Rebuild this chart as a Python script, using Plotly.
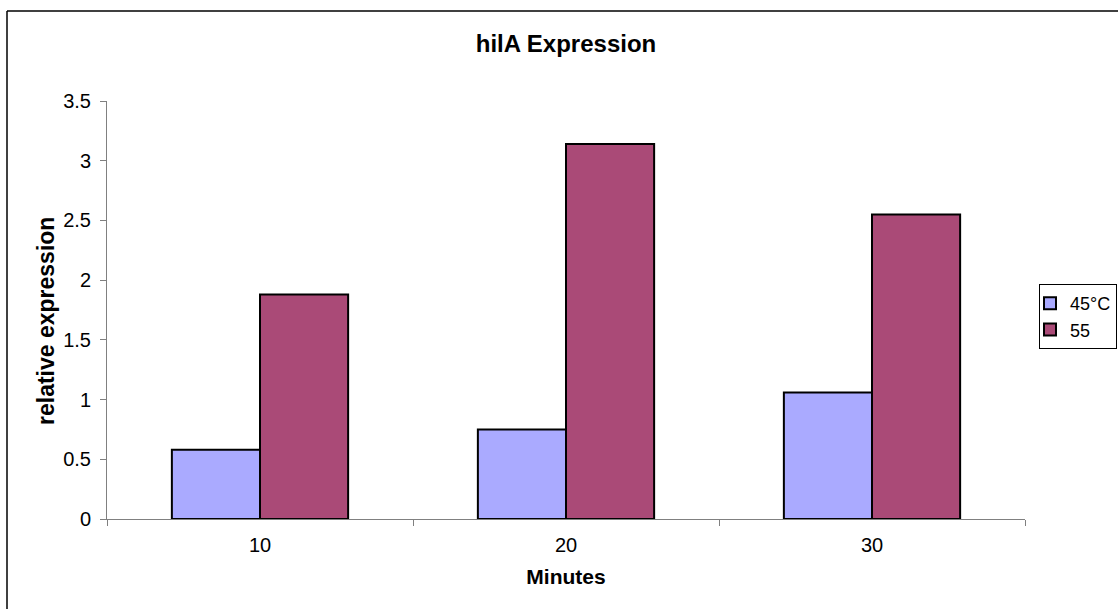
import plotly.graph_objects as go

categories = ["10", "20", "30"]
series_45 = [0.58, 0.75, 1.06]
series_55 = [1.88, 3.14, 2.55]
series_names = ["45°C", "55"]
y_ticks = [0, 0.5, 1, 1.5, 2, 2.5, 3, 3.5]
y_tick_labels = ["0", "0.5", "1", "1.5", "2", "2.5", "3", "3.5"]

W, H = 1118, 609
L, R, T, B = 107, 1025, 101, 519
pw, ph = R - L, B - T

def px(x):
    return (x - L) / pw

def py(y):
    return (B - y) / ph

FONT = "Liberation Sans, Arial, sans-serif"

fig = go.Figure()
fig.add_trace(go.Bar(x=categories, y=series_45, name=series_names[0],
                     marker=dict(color="#AAAAFF", line=dict(color="#000000", width=2))))
fig.add_trace(go.Bar(x=categories, y=series_55, name=series_names[1],
                     marker=dict(color="#AA4A77", line=dict(color="#000000", width=2))))

fig.update_layout(
    width=W, height=H,
    margin=dict(l=L, r=W - R, t=T, b=H - B, autoexpand=False),
    paper_bgcolor="white", plot_bgcolor="white",
    barmode="group", bargap=0.424, bargroupgap=0,
    font=dict(family=FONT, size=20, color="black"),
    title=dict(text="<b>hilA Expression</b>", x=566 / W, xanchor="center",
               y=1 - 44 / H, yanchor="middle", font=dict(size=24)),
    showlegend=True,
    legend=dict(x=px(1039), y=py(284), xanchor="left", yanchor="top",
                bordercolor="black", borderwidth=1, bgcolor="white",
                font=dict(size=18), itemwidth=30, tracegroupgap=0,
                indentation=-10),
    xaxis=dict(
        type="category", showline=True, linecolor="#808080", linewidth=1,
        ticks="outside", tickson="boundaries", ticklen=6, tickcolor="#808080",
        ticklabelstandoff=8,
        showgrid=False, zeroline=False,
        title=dict(text="<b>Minutes</b>", font=dict(size=21), standoff=14),
    ),
    yaxis=dict(
        range=[0, 3.5], tickvals=y_ticks, ticktext=y_tick_labels,
        showline=True, linecolor="#808080", linewidth=1,
        ticks="outside", ticklen=6, tickcolor="#808080",
        ticklabelstandoff=5,
        showgrid=False, zeroline=False,
    ),
    annotations=[
        dict(text="<b>relative expression</b>", textangle=-90,
             xref="paper", yref="paper", x=px(46), y=py(321),
             xanchor="center", yanchor="middle", showarrow=False,
             font=dict(size=23)),
    ],
    shapes=[
        dict(type="line", xref="paper", yref="paper",
             x0=px(7), x1=px(7), y0=py(11), y1=py(640),
             line=dict(color="black", width=1.5)),
        dict(type="line", xref="paper", yref="paper",
             x0=px(7), x1=px(1130), y0=py(11), y1=py(11),
             line=dict(color="black", width=1.5)),
    ],
)

fig.write_html("out.html", config={"displayModeBar": False},
               post_script="document.body.style.margin='0';document.body.style.overflow='hidden';")
